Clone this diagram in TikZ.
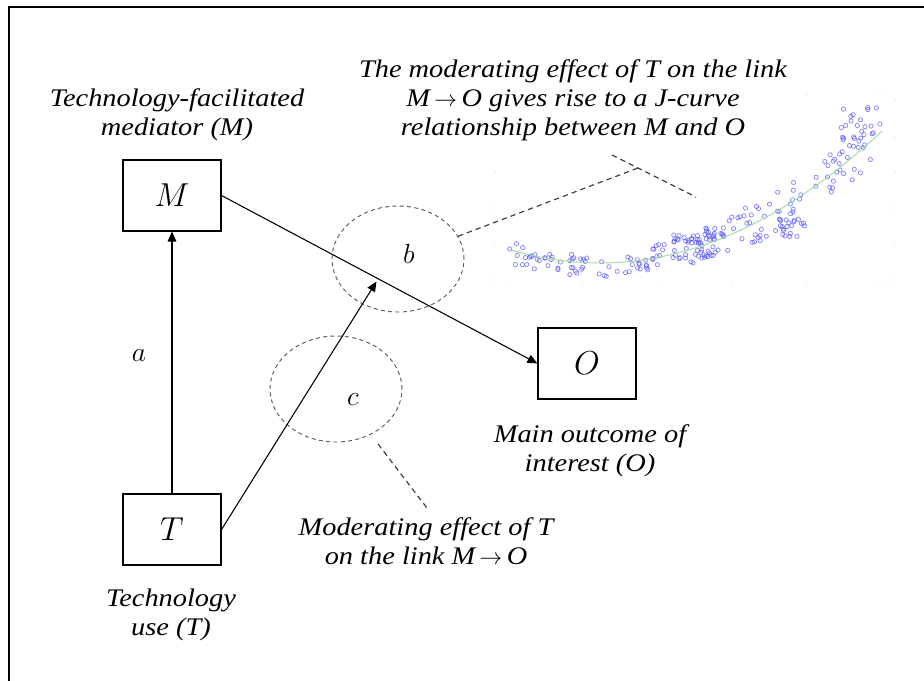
\documentclass[tikz,border=0pt]{standalone}
\usepackage{fontspec}
\setmainfont{Liberation Serif}[FakeStretch=1.12]
\usetikzlibrary{arrows.meta,shapes.geometric}
\definecolor{curvegreen}{RGB}{160,218,160}
\definecolor{ptblue}{RGB}{80,80,255}
\begin{document}
\begin{tikzpicture}[x=0.75pt,y=-0.75pt,
  box/.style={draw, line width=0.8pt, minimum width=73.5pt, minimum height=53.25pt, inner sep=0pt, font=\fontsize{24}{28}\selectfont},
  arr/.style={line width=0.8pt, -{Triangle[length=7.5pt,width=6.5pt]}},
  zone/.style={ellipse, draw=black!65, dash pattern=on 3pt off 2.5pt, line width=0.7pt, minimum width=99pt, minimum height=79.5pt, inner sep=0pt},
  callout/.style={draw=black!75, line width=0.9pt, dash pattern=on 4pt off 3pt},
  lbl/.style={font=\itshape\fontsize{19}{21.75}\selectfont, align=center, inner sep=0pt},
  sym/.style={font=\fontsize{21}{24}\selectfont, inner sep=0pt},
  pt/.style={draw=ptblue, draw opacity=0.7, line width=0.55pt},
  tickdot/.style={fill=black!20}
]
\useasboundingbox (0,0) rectangle (924,681);
% frame
\draw[line width=1.5pt] (9,681) -- (9,6.7) -- (924,6.7);

% scatter plot
\foreach \tx in {510,583,658,732,807,880} \fill[tickdot] (\tx,285) circle[radius=0.5pt];
\foreach \ty in {100,137,172,208,243,280} \fill[tickdot] (895,\ty) circle[radius=0.5pt];
\foreach \ty in {172,208,243,280} \fill[tickdot] (495,\ty) circle[radius=0.5pt];
\foreach \tx in {807,880} \fill[tickdot] (\tx,95) circle[radius=0.5pt];
\pgfmathsetseed{4213}
\foreach \i in {1,...,60}{
  \pgfmathsetmacro\xx{508+140*rnd}
  \pgfmathsetmacro\yy{266-16.6*((\xx-600)/100)^2+11*rand}
  \draw[pt] (\xx,\yy) circle[radius=1.6pt];
}
\foreach \i in {1,...,110}{
  \pgfmathsetmacro\xx{648+232*rnd}
  \pgfmathsetmacro\yy{263-16.6*((\xx-600)/100)^2+(12+0.08*(\xx-648))*rand}
  \draw[pt] (\xx,\yy) circle[radius=1.6pt];
}
\foreach \i in {1,...,45}{
  \pgfmathsetmacro\xx{672+50*rnd}
  \pgfmathsetmacro\yy{245+14*rand}
  \draw[pt] (\xx,\yy) circle[radius=1.6pt];
}
\foreach \i in {1,...,20}{
  \pgfmathsetmacro\xx{775+30*rnd}
  \pgfmathsetmacro\yy{228+9*rand}
  \draw[pt] (\xx,\yy) circle[radius=1.6pt];
}
\foreach \i in {1,...,18}{
  \pgfmathsetmacro\xx{840+40*rnd}
  \pgfmathsetmacro\yy{122+16*rand}
  \draw[pt] (\xx,\yy) circle[radius=1.6pt];
}
\draw[curvegreen, line width=0.7pt] plot[domain=510:882, samples=60] (\x,{263-16.6*((\x-600)/100)^2});

% boxes
\node[box] (M) at (172,195.5) {$M$};
\node[box] (T) at (172,529.5) {$T$};
\node[box] (O) at (587,363.5) {$O$};

% zones
\node[zone] (b) at (398,259) {};
\node[zone] (c) at (336,389) {};
\node[sym] (bl) at (409,254) {$b$};
\node[sym] (cl) at (353,400) {$c$};
\node[sym] (al) at (139,356) {$a$};

% connectors
\coordinate (L) at (376.5,281.5);
\draw[arr] (T) -- (M);
\draw[arr] (M.east) -- (O.west);
\draw[arr] (T.east) -- (L);

% callouts
\coordinate (J1) at (612,155);
\coordinate (J2) at (696,197);
\coordinate (J) at (638,168);
\coordinate (cs) at (378,444);
\coordinate (ce) at (427,508);
\draw[callout] (J1) -- (J2);
\draw[callout] (b) -- (J);
\draw[callout] (cs) -- (ce);

% texts
\node[lbl] (tM) at (177,115) {Technology-facilitated\\mediator (\textit{M})};
\node[lbl] (tJ) at (573,100) {The moderating effect of T on the link\\M\,$\rightarrow$\,O gives rise to a J-curve\\relationship between M and O};
\node[lbl] (tO) at (590,451) {Main outcome of\\interest (O)};
\node[lbl] (tC) at (426,541) {Moderating effect of T\\on the link M\,$\rightarrow$\,O};
\node[lbl] (tT) at (171,615) {Technology\\use (T)};
\end{tikzpicture}
\end{document}
